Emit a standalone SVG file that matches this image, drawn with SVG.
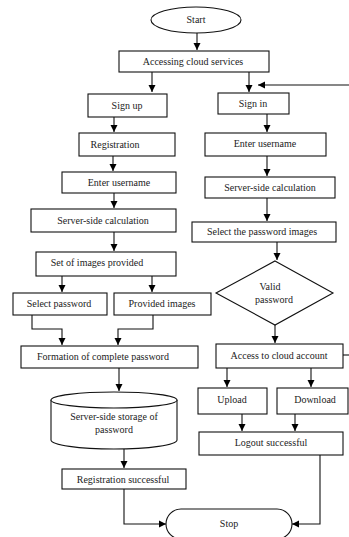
<svg xmlns="http://www.w3.org/2000/svg" width="349" height="537" viewBox="0 0 349 537">
<defs>
<marker id="ah" markerWidth="8" markerHeight="8" refX="7" refY="4" orient="auto" markerUnits="userSpaceOnUse"><path d="M0,0.5 L7,4 L0,7.5 Z" fill="#000"/></marker>
<style>
.b{fill:#fff;stroke:#111;stroke-width:1.1}
.t{font-family:"Liberation Serif","Times New Roman",serif;font-size:10px;fill:#222;text-anchor:middle}
.c{fill:none;stroke:#111;stroke-width:1.1}
.a{marker-end:url(#ah)}
</style>
</defs>
<rect width="349" height="537" fill="#fff"/>
<g id="connectors">
<path class="c a" d="M197,33 V50"/>
<path class="c a" d="M152,72 V92"/>
<path class="c a" d="M249,72 V92"/>
<path class="c a" d="M349,85 H258"/>
<path class="c a" d="M114,117 V132"/>
<path class="c a" d="M267,114 V132"/>
<path class="c a" d="M113,156 V171"/>
<path class="c a" d="M267,156 V176"/>
<path class="c a" d="M114,193 V208"/>
<path class="c a" d="M267,198 V221"/>
<path class="c a" d="M114,232 V251"/>
<path class="c a" d="M277,242 V260"/>
<path class="c a" d="M62,276 V292"/>
<path class="c a" d="M152,276 V292"/>
<path class="c a" d="M32,315 V329 H62 V345"/>
<path class="c a" d="M153,315 V329 H118 V345"/>
<path class="c a" d="M275,325 V343"/>
<path class="c" d="M343,355 H349"/>
<path class="c a" d="M119,368 V391"/>
<path class="c a" d="M227,368 V387"/>
<path class="c a" d="M311,368 V387"/>
<path class="c a" d="M124,449 V468"/>
<path class="c a" d="M242,414 V431"/>
<path class="c a" d="M295,414 V431"/>
<path class="c a" d="M124,489 V524 H166"/>
<path class="c a" d="M320,455 V524 H292"/>
</g>
<g id="start"><ellipse class="b" cx="196" cy="20" rx="45" ry="13"/><text class="t" x="196" y="23">Start</text></g>
<g id="access"><rect class="b" x="119" y="51" width="150" height="21"/><text class="t" x="193" y="65">Accessing cloud services</text></g>
<g id="signup"><rect class="b" x="88" y="94" width="79" height="23"/><text class="t" x="127" y="109">Sign up</text></g>
<g id="signin"><rect class="b" x="218" y="93" width="71" height="21"/><text class="t" x="253" y="107">Sign in</text></g>
<g id="registration"><rect class="b" x="79" y="133" width="96" height="23"/><text class="t" x="115" y="148">Registration</text></g>
<g id="enteruser-r"><rect class="b" x="205" y="133" width="121" height="23"/><text class="t" x="265" y="147">Enter username</text></g>
<g id="enteruser-l"><rect class="b" x="62" y="172" width="114" height="21"/><text class="t" x="119" y="186">Enter username</text></g>
<g id="calc-l"><rect class="b" x="31" y="209" width="145" height="23"/><text class="t" x="103" y="224">Server-side calculation</text></g>
<g id="calc-r"><rect class="b" x="205" y="177" width="130" height="21"/><text class="t" x="270" y="191">Server-side calculation</text></g>
<g id="selectimgs"><rect class="b" x="192" y="222" width="144" height="20"/><text class="t" x="262" y="235">Select the password images</text></g>
<g id="setimgs"><rect class="b" x="36" y="252" width="140" height="24"/><text class="t" x="97" y="266">Set of images provided</text></g>
<g id="valid"><path class="b" d="M275,261 L333,293 L275,325 L216,293 Z"/><text class="t" x="270" y="290">Valid</text><text class="t" x="274" y="303">password</text></g>
<g id="selectpw"><rect class="b" x="13" y="293" width="94" height="22"/><text class="t" x="59" y="307">Select password</text></g>
<g id="provided"><rect class="b" x="114" y="293" width="97" height="22"/><text class="t" x="162" y="307">Provided  images</text></g>
<g id="formation"><rect class="b" x="21" y="346" width="177" height="22"/><text class="t" x="103" y="360">Formation of complete password</text></g>
<g id="accessacct"><rect class="b" x="216" y="344" width="127" height="24"/><text class="t" x="279" y="359">Access to cloud account</text></g>
<g id="storage"><path class="b" d="M51,400 V440 A63,9 0 0 0 177,440 V400"/><ellipse class="b" cx="114" cy="400" rx="63" ry="8"/><text class="t" x="114" y="420">Server-side storage of</text><text class="t" x="114" y="433">password</text></g>
<g id="upload"><rect class="b" x="198" y="388" width="69" height="26"/><text class="t" x="232" y="403">Upload</text></g>
<g id="download"><rect class="b" x="277" y="388" width="71" height="26"/><text class="t" x="315" y="403">Download</text></g>
<g id="logout"><rect class="b" x="199" y="432" width="144" height="23"/><text class="t" x="271" y="446">Logout successful</text></g>
<g id="regsuccess"><rect class="b" x="62" y="469" width="124" height="20"/><text class="t" x="123" y="483">Registration successful</text></g>
<g id="stop"><rect class="b" x="166" y="509" width="126" height="30" rx="15"/><text class="t" x="229" y="527">Stop</text></g>
</svg>
